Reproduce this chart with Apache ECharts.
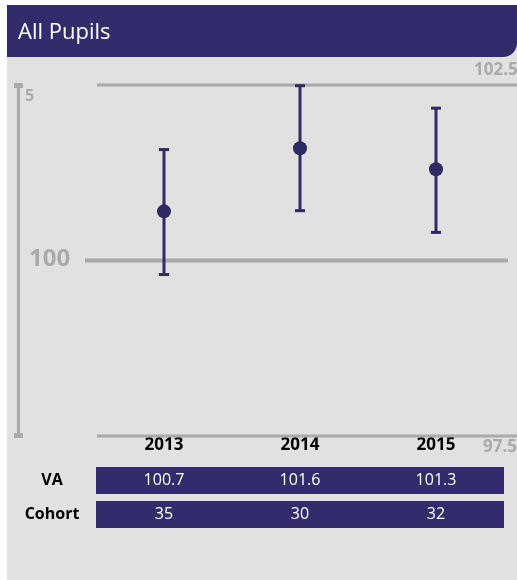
<!DOCTYPE html>
<html><head><meta charset="utf-8">
<script src="https://cdn.jsdelivr.net/npm/echarts@6/dist/echarts.min.js"></script>
<style>html,body{margin:0;padding:0;background:#fff}#c{width:517px;height:580px}</style>
</head><body><div id="c"></div>
<script>
const years = ['2013', '2014', '2015'];
const va = [100.7, 101.6, 101.3];
const lower = [99.8, 100.71, 100.4];
const upper = [101.58, 102.49, 102.17];
const cohort = [35, 30, 32];
const rowLabels = ['VA', 'Cohort'];
const yMin = 97.5, yMax = 102.5, yMid = 100;
const title = 'All Pupils';

const NAVY = '#332c6c', DOT = '#2e2a63', GREY = '#aaaaaa', BG = '#e1e1e1';
const FONT = '"Open Sans", "Noto Sans", sans-serif';

const chart = echarts.init(document.getElementById('c'), null, {renderer: 'canvas'});
function gtext(txt, x, y, size, color, weight, align) {
  return {type: 'text', z: 5, x: x, y: y,
    style: {text: txt, fill: color, fontSize: size, fontWeight: weight || 'normal',
      fontFamily: FONT, align: align || 'left', verticalAlign: 'middle'}};
}
const option = {
  animation: false,
  backgroundColor: '#ffffff',
  textStyle: {fontFamily: FONT},
  grid: {left: 96, right: 13, top: 85, bottom: 144},
  xAxis: {
    type: 'category', data: years,
    axisLine: {show: false}, axisTick: {show: false}, splitLine: {show: false},
    axisLabel: {color: '#000', fontWeight: 'bold', fontSize: 17, margin: 1, fontFamily: FONT}
  },
  yAxis: {type: 'value', min: yMin, max: yMax, show: false, splitLine: {show: false}},
  graphic: [
    {type: 'rect', z: -10, shape: {x: 7, y: 5, width: 510, height: 575}, style: {fill: BG}},
    {type: 'rect', z: -5, shape: {x: 7, y: 5, width: 510, height: 52, r: [0, 0, 14, 0]}, style: {fill: NAVY}},
    gtext(title, 18, 33, 22, '#fff'),
    {type: 'rect', z: 1, shape: {x: 17, y: 85, width: 3, height: 351}, style: {fill: GREY}},
    {type: 'rect', z: 1, shape: {x: 14, y: 83, width: 9, height: 5}, style: {fill: GREY}},
    {type: 'rect', z: 1, shape: {x: 14, y: 433, width: 9, height: 5}, style: {fill: GREY}},
    gtext('5', 25, 96, 16, GREY, 'bold'),
    gtext(String(yMid), 29, 259, 24, GREY, 'bold'),
    gtext(String(yMax), 474, 70, 17, GREY, 'bold'),
    gtext(String(yMin), 483, 447, 17, GREY, 'bold')
  ],
  series: [
    {
      type: 'custom', silent: true, clip: false, z: 1,
      data: [[0, yMax], [0, yMid], [0, yMin]],
      renderItem: function (params, api) {
        const cs = params.coordSys;
        const v = api.value(1);
        const y = api.coord([0, v])[1];
        const isMid = v === yMid;
        const x1 = isMid ? cs.x - 11 : cs.x + 1;
        const x2 = isMid ? cs.x + cs.width + 4 : api.getWidth();
        return {type: 'line', shape: {x1: x1, y1: y, x2: x2, y2: y},
          style: {stroke: GREY, lineWidth: isMid ? 4 : 3}};
      }
    },
    {
      type: 'custom', silent: true, clip: false, z: 3,
      data: years.map((y, i) => [i, lower[i], upper[i]]),
      renderItem: function (params, api) {
        const lo = api.coord([api.value(0), api.value(1)]);
        const hi = api.coord([api.value(0), api.value(2)]);
        const st = {stroke: DOT, lineWidth: 3};
        return {type: 'group', children: [
          {type: 'line', shape: {x1: lo[0], y1: lo[1], x2: hi[0], y2: hi[1]}, style: st},
          {type: 'line', shape: {x1: lo[0] - 5, y1: lo[1], x2: lo[0] + 5, y2: lo[1]}, style: st},
          {type: 'line', shape: {x1: hi[0] - 5, y1: hi[1], x2: hi[0] + 5, y2: hi[1]}, style: st}
        ]};
      }
    },
    {
      type: 'scatter', silent: true, z: 4, symbol: 'circle', symbolSize: 14,
      itemStyle: {color: DOT, opacity: 1},
      data: va
    },
    {
      type: 'custom', silent: true, clip: false, z: 2,
      data: years.map((y, i) => [i, va[i], cohort[i]]),
      renderItem: function (params, api) {
        const cs = params.coordSys;
        const c = api.coord([api.value(0), yMin]);
        const w = api.size([1, 0])[0];
        const base = cs.y + cs.height;
        const rows = [
          {y: base + 31, h: 27, t: api.value(1).toFixed(1)},
          {y: base + 65, h: 27, t: String(api.value(2))}
        ];
        const ch = [];
        rows.forEach(function (r, k) {
          ch.push({type: 'rect', shape: {x: c[0] - w / 2, y: r.y, width: w, height: r.h}, style: {fill: NAVY}});
          ch.push({type: 'text', style: {text: r.t, x: c[0], y: r.y + r.h / 2, align: 'center', verticalAlign: 'middle', fill: '#fff', fontSize: 16, fontFamily: FONT}});
          if (params.dataIndex === 0) {
            ch.push({type: 'text', style: {text: rowLabels[k], x: 52, y: r.y + r.h / 2, align: 'center', verticalAlign: 'middle', fill: '#000', fontSize: 16, fontWeight: 'bold', fontFamily: FONT}});
          }
        });
        return {type: 'group', children: ch};
      }
    }
  ]
};
chart.setOption(option);
</script>
</body></html>
